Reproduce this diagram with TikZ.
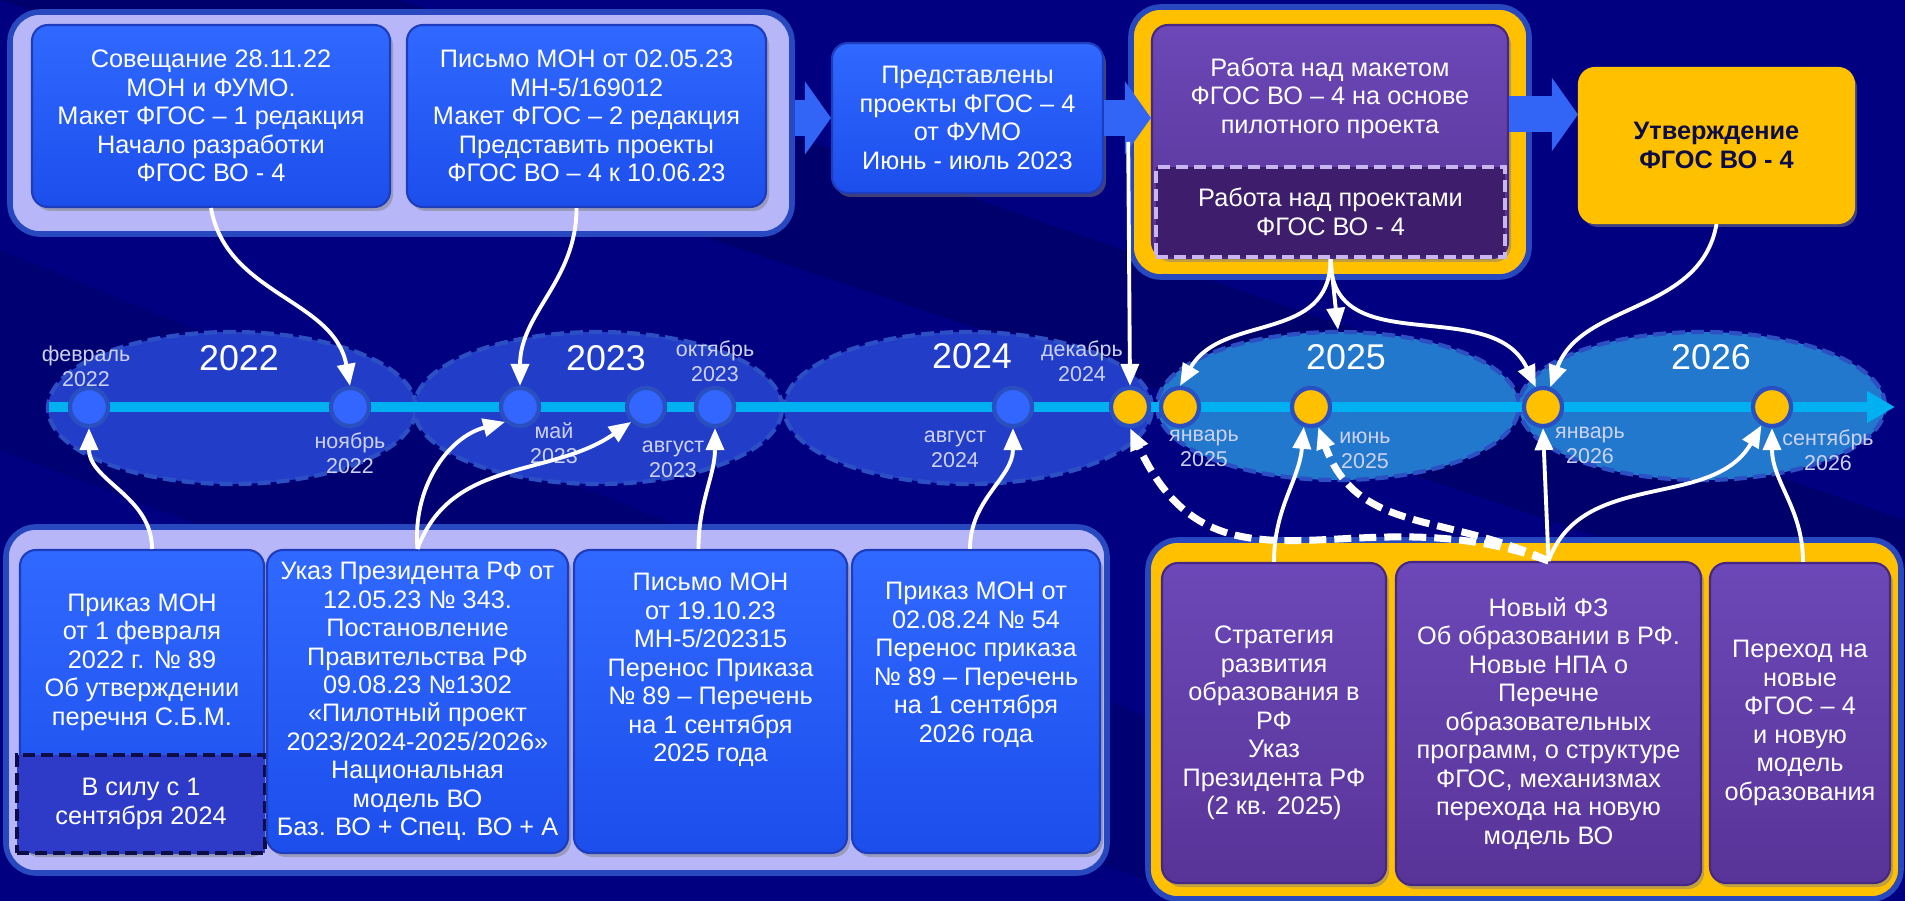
\documentclass[tikz,border=0pt]{standalone}
\usepackage{fontspec}
\setmainfont{Liberation Sans}
\usepackage{xcolor}
\usepackage{tikz}
\usetikzlibrary{arrows.meta}
\usetikzlibrary{positioning}
\usetikzlibrary{shapes.geometric}
\usetikzlibrary{shadows}

\definecolor{fondo}{RGB}{0,0,128}
\definecolor{fondoosc}{RGB}{0,0,95}
\definecolor{lila}{RGB}{182,182,248}
\definecolor{borde}{RGB}{40,72,192}
\definecolor{azul}{RGB}{28,78,236}
\definecolor{azulclaro}{RGB}{48,105,255}
\definecolor{azulborde}{RGB}{30,60,190}
\definecolor{flecha}{RGB}{50,100,245}
\definecolor{morado}{RGB}{88,52,152}
\definecolor{moradoclaro}{RGB}{108,72,184}
\definecolor{moradoborde}{RGB}{70,40,130}
\definecolor{moradoosc}{RGB}{62,30,108}
\definecolor{lilaclaro}{RGB}{200,182,240}
\definecolor{amarillo}{RGB}{255,192,0}
\definecolor{linea}{RGB}{0,176,240}
\definecolor{elipse}{RGB}{34,62,200}
\definecolor{elipseclara}{RGB}{34,120,205}
\definecolor{elipseborde}{RGB}{44,80,196}
\definecolor{punto}{RGB}{51,102,255}
\definecolor{puntoborde}{RGB}{42,79,192}
\definecolor{mes}{RGB}{205,210,245}
\definecolor{azulsilla}{RGB}{46,58,200}
\definecolor{tinta}{RGB}{12,12,70}

\begin{document}
\begin{tikzpicture}[
    box/.style={rectangle, rounded corners=0.16cm, draw=azulborde, line width=0.6pt, top color=azulclaro, bottom color=azul, text=white, align=center, inner sep=0pt, font=\fontsize{7.2}{8.1}\selectfont, drop shadow={shadow xshift=0.03cm, shadow yshift=-0.04cm, opacity=0.5}},
    pbox/.style={box, draw=moradoborde, top color=moradoclaro, bottom color=morado},
    panel/.style={rectangle, rounded corners=0.3cm, draw=borde, line width=1.6pt, fill=lila, inner sep=0pt},
    yearbub/.style={ellipse, draw=elipseborde, line width=1.2pt, dash pattern=on 0.13cm off 0.06cm, fill=elipse, inner sep=0pt, minimum width=3.68cm, minimum height=1.52cm},
    yearlbl/.style={text=white, font=\fontsize{10.2}{12}\selectfont},
    dot/.style={circle, draw=puntoborde, line width=1.2pt, fill=punto, minimum size=0.38cm, inner sep=0pt},
    ydot/.style={dot, fill=amarillo},
    month/.style={text=mes, align=center, font=\fontsize{6.1}{7.1}\selectfont},
    link/.style={white, line width=1.1pt, -{Triangle[length=0.22cm, width=0.18cm]}},
    dlink/.style={link, line width=2pt, dash pattern=on 0.17cm off 0.08cm},
    bigarrow/.style={flecha, line width=0.36cm, -{Triangle[length=0.26cm, width=0.72cm]}}
]
\useasboundingbox (0,0) rectangle (19.05,-9.01);
\fill[fondo] (0,0) rectangle (19.05,-9.01);
\fill[fondoosc, opacity=0.6] (0,0) -- (4,0) -- (19.05,-5.2) -- (19.05,-6.4) -- cycle;
\fill[fondoosc, opacity=0.4] (0,-2.5) -- (0,-4.5) -- (12,-9.01) -- (16,-9.01) -- cycle;

% Burbujas de los años
\node[yearbub] (e22) at (2.32,-4.08) {};
\node[yearbub] (e23) at (5.98,-4.08) {};
\node[yearbub] (e24) at (9.68,-4.08) {};
\node[yearbub, fill=elipseclara, minimum width=3.62cm, minimum height=1.48cm] (e25) at (13.38,-4.06) {};
\node[yearbub, fill=elipseclara, minimum width=3.66cm, minimum height=1.48cm] (e26) at (17.02,-4.06) {};

\node[yearlbl] (y22) at (2.39,-3.58) {2022};
\node[yearlbl] (y23) at (6.06,-3.58) {2023};
\node[yearlbl] (y24) at (9.72,-3.56) {2024};
\node[yearlbl] (y25) at (13.46,-3.57) {2025};
\node[yearlbl] (y26) at (17.11,-3.57) {2026};

% Eje del tiempo
\coordinate (t0) at (0.49,-4.07);
\coordinate (t1) at (18.95,-4.07);
\draw[linea, line width=0.1cm, -{Triangle[length=0.28cm, width=0.3cm]}] (t0) -- (t1);

% Puntos del eje
\node[dot] (dfeb22) at (0.89,-4.07) {};
\node[dot] (dnov22) at (3.50,-4.07) {};
\node[dot] (dmay23) at (5.20,-4.07) {};
\node[dot] (daug23) at (6.46,-4.07) {};
\node[dot] (doct23) at (7.15,-4.07) {};
\node[dot] (daug24) at (10.13,-4.07) {};
\node[ydot] (ddec24) at (11.30,-4.07) {};
\node[ydot] (djan25) at (11.80,-4.07) {};
\node[ydot] (djun25) at (13.11,-4.07) {};
\node[ydot] (djan26) at (15.43,-4.07) {};
\node[ydot] (dsep26) at (17.72,-4.07) {};

% Meses
\node[month] (mfeb22) at (0.86,-3.66) {февраль\\2022};
\node[month] (mnov22) at (3.50,-4.53) {ноябрь\\2022};
\node[month] (mmay23) at (5.54,-4.43) {май\\2023};
\node[month] (maug23) at (6.73,-4.59) {август\\2023};
\node[month] (moct23) at (7.15,-3.61) {октябрь\\2023};
\node[month] (maug24) at (9.55,-4.49) {август\\2024};
\node[month] (mdec24) at (10.82,-3.61) {декабрь\\2024};
\node[month] (mjan25) at (12.04,-4.48) {январь\\2025};
\node[month] (mjun25) at (13.65,-4.50) {июнь\\2025};
\node[month] (mjan26) at (15.90,-4.45) {январь\\2026};
\node[month] (msep26) at (18.28,-4.50) {сентябрь\\2026};

% Fila superior
\node[panel, minimum width=7.82cm, minimum height=2.22cm] (pa) at (4.01,-1.23) {};
\node[box, minimum width=3.58cm, minimum height=1.82cm] (ta1) at (2.11,-1.16) {Совещание 28.11.22\\МОН и ФУМО.\\Макет ФГОС – 1 редакция\\Начало разработки\\ФГОС ВО - 4};
\node[box, minimum width=3.59cm, minimum height=1.82cm] (ta2) at (5.865,-1.16) {Письмо МОН от 02.05.23\\МН-5/169012\\Макет ФГОС – 2 редакция\\Представить проекты\\ФГОС ВО – 4 к 10.06.23};
\node[box, minimum width=2.71cm, minimum height=1.50cm] (tb) at (9.675,-1.18) {Представлены\\проекты ФГОС – 4\\от ФУМО\\Июнь - июль 2023};
\node[panel, fill=amarillo, minimum width=3.98cm, minimum height=2.70cm] (pc) at (13.30,-1.42) {};
\node[pbox, minimum width=3.56cm, minimum height=2.33cm] (tc) at (13.30,-1.415) {};
\node[text=white, align=center, font=\fontsize{7.2}{8.1}\selectfont] (tctxt) at (13.30,-0.98) {Работа над макетом\\ФГОС ВО – 4 на основе\\пилотного проекта};
\node[rectangle, draw=lilaclaro, line width=1.3pt, dash pattern=on 0.12cm off 0.06cm, fill=moradoosc, text=white, align=center, inner sep=0pt, font=\fontsize{7.2}{8.1}\selectfont, minimum width=3.49cm, minimum height=0.90cm] (tc2) at (13.305,-2.12) {Работа над проектами\\ФГОС ВО - 4};
\node[box, draw=amarillo, top color=amarillo, bottom color=amarillo, text=tinta, font=\fontsize{7.2}{8.1}\selectfont\bfseries, minimum width=2.75cm, minimum height=1.55cm] (td) at (17.165,-1.455) {Утверждение\\ФГОС ВО - 4};

% Flechas gruesas
\draw[bigarrow] (pa.east |- tb.west) -- (tb.west);
\draw[bigarrow] (tb.east) -- (tb.east -| tc.west);
\draw[bigarrow] ([yshift=0.27cm]tc.east) -- ([yshift=0.27cm]tc.east -| td.west);

% Fila inferior izquierda
\node[panel, minimum width=11.01cm, minimum height=3.46cm] (pe) at (5.565,-7.00) {};
\node[box, minimum width=2.44cm, minimum height=3.03cm] (ba) at (1.42,-7.015) {};
\node[text=white, align=center, font=\fontsize{7.2}{8.1}\selectfont] (batxt) at (1.42,-6.62) {Приказ МОН\\от 1 февраля\\2022 г. № 89\\Об утверждении\\перечня С.Б.М.};
\node[rectangle, draw=tinta, line width=1.3pt, dash pattern=on 0.12cm off 0.06cm, fill=azulsilla, text=white, align=center, inner sep=0pt, font=\fontsize{7.2}{8.1}\selectfont, minimum width=2.48cm, minimum height=0.98cm] (ba2) at (1.41,-8.04) {В силу с 1\\сентября 2024};
\node[box, minimum width=3.01cm, minimum height=3.03cm] (bb) at (4.175,-7.015) {Указ Президента РФ от\\12.05.23 № 343.\\Постановление\\Правительства РФ\\09.08.23 №1302\\«Пилотный проект\\2023/2024-2025/2026»\\Национальная\\модель ВО\\Баз. ВО + Спец. ВО + А};
\node[box, minimum width=2.73cm, minimum height=3.03cm] (bc) at (7.105,-7.015) {Письмо МОН\\от 19.10.23\\МН-5/202315\\Перенос Приказа\\№ 89 – Перечень\\на 1 сентября\\2025 года\\[0.4cm]};
\node[box, minimum width=2.48cm, minimum height=3.03cm] (bd) at (9.76,-7.015) {Приказ МОН от\\02.08.24 № 54\\Перенос приказа\\№ 89 – Перечень\\на 1 сентября\\2026 года\\[0.5cm]};

% Fila inferior derecha
\node[panel, fill=amarillo, minimum width=7.53cm, minimum height=3.59cm] (pf) at (15.245,-7.195) {};
\node[pbox, minimum width=2.24cm, minimum height=3.20cm] (be) at (12.74,-7.23) {Стратегия\\развития\\образования в\\РФ\\Указ\\Президента РФ\\(2 кв. 2025)};
\node[pbox, minimum width=3.05cm, minimum height=3.23cm] (bf) at (15.485,-7.235) {Новый ФЗ\\Об образовании в РФ.\\Новые НПА о\\Перечне\\образовательных\\программ, о структуре\\ФГОС, механизмах\\перехода на новую\\модель ВО};
\node[pbox, minimum width=1.80cm, minimum height=3.20cm] (bg) at (18.00,-7.23) {Переход на\\новые\\ФГОС – 4\\и новую\\модель\\образования};

% Conexiones hacia el eje
\draw[link] (ta1.south) to[out=-80,in=100] (dnov22.north);
\draw[link] ([xshift=-0.1cm]ta2.south) to[out=-90,in=90] (dmay23.north);
\draw[link] (pc.west) -- (ddec24.north);
\draw[link] (tc2.south) to[out=-90,in=60,looseness=1.1] (djan25.north);
\draw[link] (tc2.south) -- (e25.north);
\draw[link] (tc2.south) to[out=-90,in=115,looseness=1.1] (djan26.110);
\draw[link] (td.south) to[out=-100,in=70] (djan26.70);
\draw[link] ([xshift=0.1cm]ba.north) to[out=90,in=-90] (dfeb22.south);
\draw[link] (bb.north) to[out=95,in=195] (dmay23.-135);
\draw[link] (bb.north) to[out=70,in=215] (daug23.-135);
\draw[link] ([xshift=-0.12cm]bc.north) to[out=90,in=-90] (doct23.south);
\draw[link] ([xshift=-0.06cm]bd.north) to[out=90,in=-90] (daug24.south);
\draw[link] (be.north) to[out=90,in=-95] (djun25.250);
\draw[link] (bf.north) -- (djan26.south);
\draw[link] (bf.north) to[out=70,in=240] (dsep26.-120);
\draw[dlink] (bf.north) to[out=160,in=-65,looseness=1.2] (ddec24.south);
\draw[dlink] (bf.north) to[out=155,in=-70,looseness=1.1] (djun25.-70);
\draw[link] ([xshift=0.03cm]bg.north) to[out=90,in=-90] (dsep26.south);

\end{tikzpicture}
\end{document}
